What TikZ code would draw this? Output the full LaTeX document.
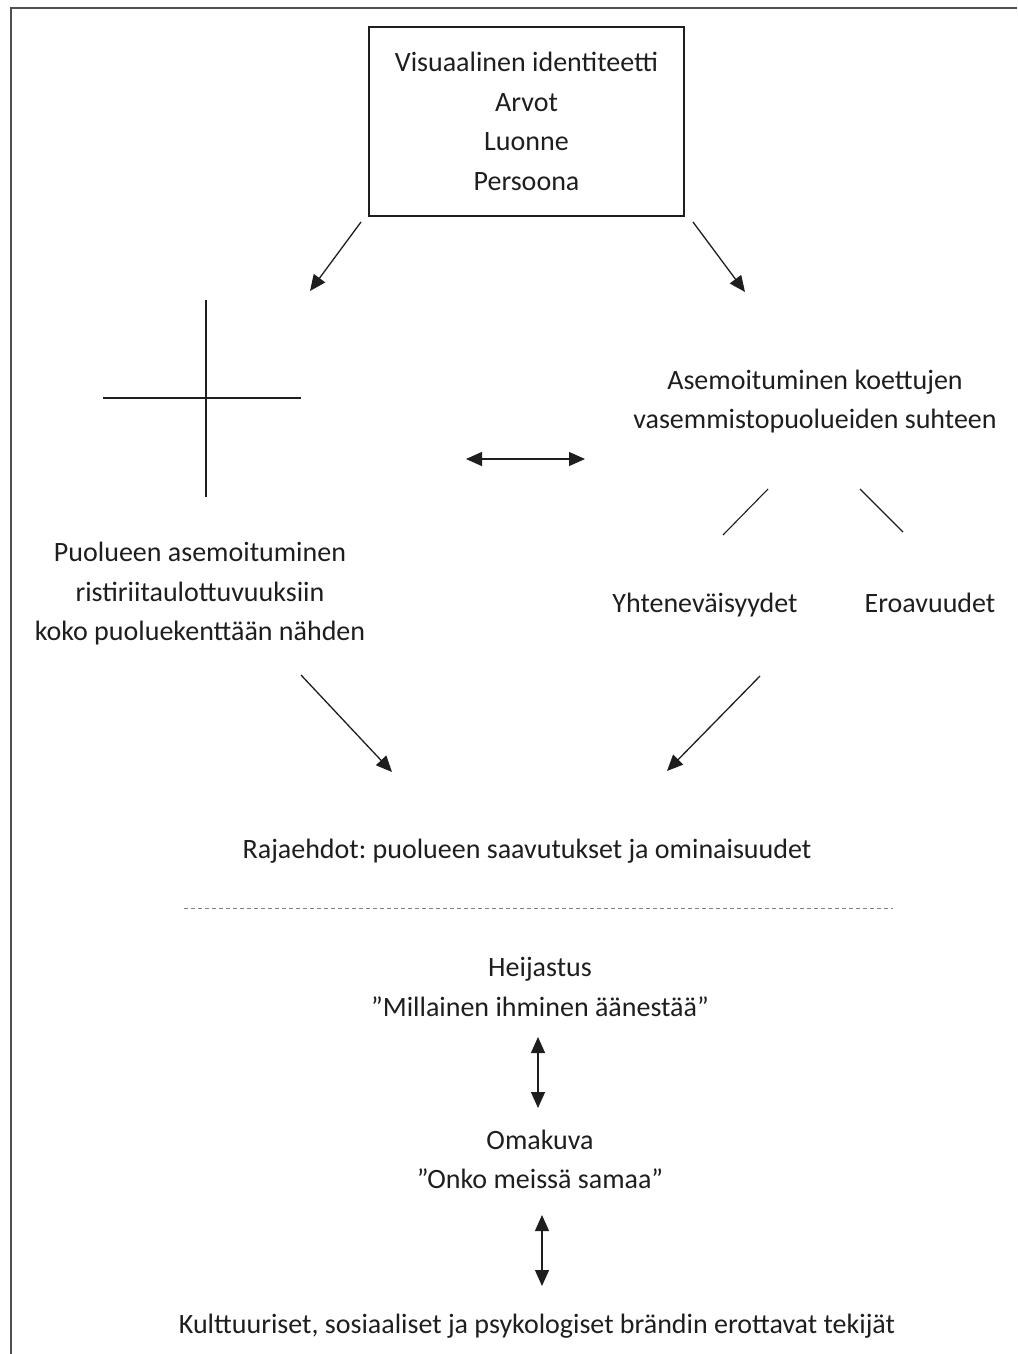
\documentclass[tikz,border=0pt]{standalone}
\usepackage{fontspec}
\setmainfont{Carlito}
\usetikzlibrary{arrows.meta}
\definecolor{ink}{HTML}{1E1E1E}
\definecolor{framegray}{HTML}{505050}
\begin{document}
\frenchspacing
\begin{tikzpicture}[x=1pt,y=-1pt,
  txt/.style={font=\fontsize{28}{39.5}\selectfont, text=ink, align=center, inner sep=0pt},
  conn/.style={draw=ink, line width=1.3pt},
  tip/.tip={Triangle[length=16pt,width=14pt]},
  arr/.style={conn, -tip},
  dbl/.style={conn, tip-tip},
  plain/.style={draw=ink, line width=1.1pt}]
  \useasboundingbox (0,0) rectangle (1017,1354);
  % page frame
  \draw[framegray, line width=1.6pt] (11,1354) -- (11,8) -- (1017,8);

  % identity box
  \node[txt, draw=ink, line width=1.2pt, minimum width=315pt, minimum height=189pt] (ident) at (526.5,121.5)
    {Visuaalinen identiteetti\\Arvot\\Luonne\\Persoona};

  % arrows from the identity box
  \coordinate (a1s) at (361,222); \coordinate (a1e) at (310,291);
  \coordinate (a2s) at (693,222); \coordinate (a2e) at (745,292);
  \draw[arr] (a1s) -- (a1e);
  \draw[arr] (a2s) -- (a2e);

  % position cross
  \coordinate (vtop) at (206,300); \coordinate (vbot) at (206,497);
  \coordinate (hl) at (103,398); \coordinate (hr) at (301,398);
  \draw[plain] (vtop) -- (vbot);
  \draw[plain] (hl) -- (hr);

  % left block
  \node[txt] (left) at (200,594)
    {Puolueen asemoituminen\\ristiriitaulottuvuuksiin\\koko puoluekenttään nähden};

  % right block
  \node[txt] (right) at (815,401.5)
    {Asemoituminen koettujen\\vasemmistopuolueiden suhteen};

  % horizontal double arrow
  \coordinate (hdl) at (466,459); \coordinate (hdr) at (585,459);
  \draw[dbl] (hdl) -- (hdr);

  % branches
  \coordinate (b1s) at (768,489); \coordinate (b1e) at (723,535);
  \coordinate (b2s) at (860,489); \coordinate (b2e) at (903,532);
  \draw[plain] (b1s) -- (b1e);
  \draw[plain] (b2s) -- (b2e);
  \node[txt, anchor=base] (yht) at (705,612) {Yhteneväisyydet};
  \node[txt, anchor=base] (ero) at (930,612) {Eroavuudet};

  % arrows to the constraints
  \coordinate (c1s) at (301,675); \coordinate (c1e) at (392,772);
  \coordinate (c2s) at (760,676); \coordinate (c2e) at (667,771);
  \draw[arr] (c1s) -- (c1e);
  \draw[arr] (c2s) -- (c2e);

  \node[txt] (raja) at (527,851) {Rajaehdot: puolueen saavutukset ja ominaisuudet};

  % dashed separator
  \coordinate (dl) at (184,908); \coordinate (dr) at (893,908);
  \draw[gray, line width=1pt, dash pattern=on 4pt off 3pt] (dl) -- (dr);

  \node[txt] (heij) at (540,987) {Heijastus\\”Millainen ihminen äänestää”};
  \coordinate (v1t) at (538,1037); \coordinate (v1b) at (538,1108);
  \draw[dbl] (v1t) -- (v1b);

  \node[txt] (oma) at (540,1159.5) {Omakuva\\”Onko meissä samaa”};
  \coordinate (v2t) at (542,1215); \coordinate (v2b) at (542,1286);
  \draw[dbl] (v2t) -- (v2b);

  \node[txt] (kult) at (537,1326) {Kulttuuriset, sosiaaliset ja psykologiset brändin erottavat tekijät};
\end{tikzpicture}
\end{document}
